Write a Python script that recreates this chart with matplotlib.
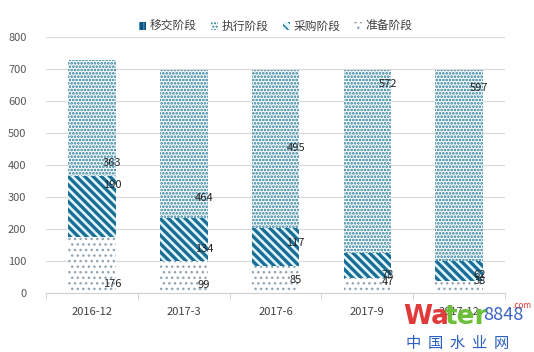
import matplotlib
matplotlib.use("Agg")
import matplotlib.pyplot as plt
import numpy as np

plt.rcParams['font.family'] = ['Noto Sans CJK SC', 'DejaVu Sans']

periods = ['2016-12', '2017-3', '2017-6', '2017-9', '2017-12']
prep = [176, 99, 85, 47, 38]        # 准备阶段
purchase = [190, 134, 117, 78, 62]  # 采购阶段
execute = [363, 464, 495, 572, 597] # 执行阶段
handover = [0, 0, 0, 0, 0]          # 移交阶段

# where Excel left the data labels (value units)
prep_label_y = [28, 25, 40, 34, 37]
purchase_label_y = [337, 137, 156, 56, 56]
execute_label_y = [406, 297, 453, 653, 640]

blue = '#1b6e96'
x = np.arange(len(periods))
w = 0.52

fig = plt.figure(figsize=(5.34, 3.52), dpi=100)
ax = fig.add_axes([0.086, 0.168, 0.86, 0.727])

bottom = np.zeros(len(periods))
series = [
    ('准备阶段', prep, 'white', '#8fa4b4', '...', 1.0),
    ('采购阶段', purchase, '#e2f8fd', blue, '\\\\\\\\', 2.4),
    ('执行阶段', execute, 'white', '#23789a', '.....', 1.3),
    ('移交阶段', handover, '#0f4f78', '#3b8fc0', '||||', 1.0),
]
bars = []
for name, vals, fc, hc, hatch, hlw in series:
    with plt.rc_context({'hatch.linewidth': hlw}):
        b = ax.bar(x, vals, w, bottom=bottom, color=fc, edgecolor=hc,
                   hatch=hatch, linewidth=0, label=name, zorder=2)
    bars.append(b)
    bottom += np.array(vals)

for vals, ys in [(prep, prep_label_y), (purchase, purchase_label_y),
                 (execute, execute_label_y)]:
    for i, (v, yy) in enumerate(zip(vals, ys)):
        ax.text(x[i] + 0.22, yy, str(v), ha='center', va='center',
                fontsize=8, color='#262626', zorder=4)

ax.set_xlim(-0.5, len(periods) - 0.5)
ax.set_ylim(0, 800)
ax.set_yticks(range(0, 801, 100))
ax.yaxis.grid(True, color='#d9d9d9', linewidth=0.8, zorder=0)
ax.set_axisbelow(True)
for s in ['top', 'right', 'left']:
    ax.spines[s].set_visible(False)
ax.spines['bottom'].set_color('#d0d0d0')
ax.tick_params(axis='y', length=0, labelsize=8, labelcolor='#595959', pad=14)
ax.set_xticks(x)
ax.set_xticklabels(periods)
ax.tick_params(axis='x', length=0, labelsize=8, labelcolor='#404040', pad=10)
ax.set_xticks(np.arange(-0.5, len(periods), 1.0), minor=True)
ax.tick_params(axis='x', which='minor', length=5, color='#d0d0d0')

handles = [bars[3], bars[2], bars[1], bars[0]]
ax.legend(handles, [h.get_label() for h in handles], loc='center',
          bbox_to_anchor=(0.5, 1.04), ncol=4, frameon=False, fontsize=8.5,
          handlelength=0.6, handleheight=0.6, handletextpad=0.3,
          columnspacing=1.2, labelcolor='#404040')

# site watermark
fig.text(0.755, 0.08, 'Wa', color='#e03a3a', fontsize=19, fontweight='bold',
         family='DejaVu Sans')
fig.text(0.833, 0.08, 'ter', color='#6cbf3a', fontsize=19, fontweight='bold',
         family='DejaVu Sans')
fig.text(0.905, 0.09, '8848', color='#3a62c0', fontsize=13, style='italic')
fig.text(0.96, 0.125, '.com', color='#e03a3a', fontsize=6)
fig.text(0.76, 0.012, '中  国  水  业  网', color='#2a5fbf', fontsize=11)

fig.savefig('out.png', dpi=100)
